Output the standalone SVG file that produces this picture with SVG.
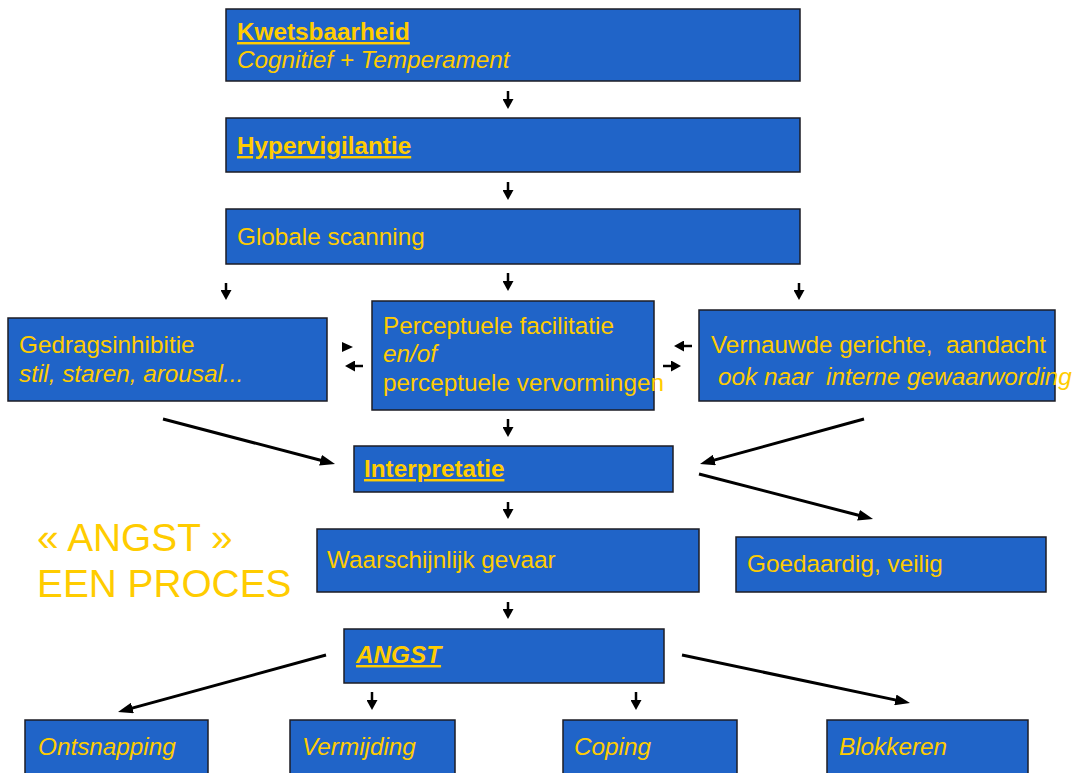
<svg xmlns="http://www.w3.org/2000/svg" width="1074" height="773" viewBox="0 0 1074 773">
<style>
.box{fill:#2064C8;stroke:#1c1c24;stroke-width:1.5}
.t{fill:#FFCC00;font-family:"Liberation Sans",Arial,sans-serif;font-size:24.3px;white-space:pre}
.b{font-weight:bold;text-decoration:underline}
.i{font-style:italic}
.big{fill:#FFCC00;font-family:"Liberation Sans",Arial,sans-serif;font-size:38.8px}
.s{stroke:#000;stroke-width:2.5;fill:none}
.l{stroke:#000;stroke-width:3;fill:none}
</style>
<defs>
<marker id="ah" markerUnits="userSpaceOnUse" markerWidth="15" markerHeight="11" refX="7" refY="5.5" orient="auto">
<path d="M0,0 L15,5.5 L0,11 z" fill="#000"/>
</marker>
<marker id="sh" markerUnits="userSpaceOnUse" markerWidth="10" markerHeight="11" refX="5" refY="5.5" orient="auto">
<path d="M0,0 L10,5.5 L0,11 z" fill="#000"/>
</marker>
</defs>
<rect width="1074" height="773" fill="#fff"/>

<g id="connectors">
<line class="s" x1="508" y1="91" x2="508" y2="104" marker-end="url(#sh)"/>
<line class="s" x1="508" y1="182" x2="508" y2="195" marker-end="url(#sh)"/>
<line class="s" x1="508" y1="273" x2="508" y2="286" marker-end="url(#sh)"/>
<line class="s" x1="226" y1="283" x2="226" y2="295" marker-end="url(#sh)"/>
<line class="s" x1="799" y1="283" x2="799" y2="295" marker-end="url(#sh)"/>
<line class="s" x1="508" y1="419" x2="508" y2="432" marker-end="url(#sh)"/>
<line class="s" x1="508" y1="502" x2="508" y2="514" marker-end="url(#sh)"/>
<line class="s" x1="508" y1="602" x2="508" y2="614" marker-end="url(#sh)"/>
<line class="s" x1="372" y1="692" x2="372" y2="705" marker-end="url(#sh)"/>
<line class="s" x1="636" y1="692" x2="636" y2="705" marker-end="url(#sh)"/>
<polygon points="342,342 353,347 342,352" fill="#000"/>
<line class="s" x1="363" y1="366" x2="350" y2="366" marker-end="url(#sh)"/>
<line class="s" x1="692" y1="346" x2="679" y2="346" marker-end="url(#sh)"/>
<line class="s" x1="663" y1="366" x2="676" y2="366" marker-end="url(#sh)"/>
<line class="l" x1="163" y1="419" x2="327.3" y2="462" marker-end="url(#ah)"/>
<line class="l" x1="864" y1="419" x2="707.7" y2="461.9" marker-end="url(#ah)"/>
<line class="l" x1="699" y1="474" x2="865.3" y2="517" marker-end="url(#ah)"/>
<line class="l" x1="326" y1="655" x2="125.7" y2="709.9" marker-end="url(#ah)"/>
<line class="l" x1="682" y1="655" x2="902.2" y2="701.4" marker-end="url(#ah)"/>
</g>

<g id="kwetsbaarheid">
<rect class="box" x="226" y="9" width="574" height="72"/>
<text class="t b" x="237" y="40">Kwetsbaarheid</text>
<text class="t i" x="237" y="68">Cognitief + Temperament</text>
</g>
<g id="hypervigilantie">
<rect class="box" x="226" y="118" width="574" height="54"/>
<text class="t b" x="237" y="154">Hypervigilantie</text>
</g>
<g id="globale">
<rect class="box" x="226" y="209" width="574" height="55"/>
<text class="t" x="237" y="245">Globale scanning</text>
</g>
<g id="gedragsinhibitie">
<rect class="box" x="8" y="318" width="319" height="83"/>
<text class="t" x="19" y="353">Gedragsinhibitie</text>
<text class="t i" x="19" y="382">stil, staren, arousal...</text>
</g>
<g id="perceptuele">
<rect class="box" x="372" y="301" width="282" height="109"/>
<text class="t" x="383" y="334">Perceptuele facilitatie</text>
<text class="t i" x="383" y="362">en/of</text>
<text class="t" x="383" y="391">perceptuele vervormingen</text>
</g>
<g id="vernauwde">
<rect class="box" x="699" y="310" width="356" height="91"/>
<text class="t" x="711" y="353">Vernauwde gerichte,  aandacht</text>
<text class="t i" x="718" y="385">ook naar  interne gewaarwording</text>
</g>
<g id="interpretatie">
<rect class="box" x="354" y="446" width="319" height="46"/>
<text class="t b" x="364" y="477">Interpretatie</text>
</g>
<g id="waarschijnlijk">
<rect class="box" x="317" y="529" width="382" height="63"/>
<text class="t" x="327" y="568">Waarschijnlijk gevaar</text>
</g>
<g id="goedaardig">
<rect class="box" x="736" y="537" width="310" height="55"/>
<text class="t" x="747" y="572">Goedaardig, veilig</text>
</g>
<g id="angst">
<rect class="box" x="344" y="629" width="320" height="54"/>
<text class="t b i" x="356" y="663">ANGST</text>
</g>
<g id="ontsnapping">
<rect class="box" x="25" y="720" width="183" height="60"/>
<text class="t i" x="38" y="755">Ontsnapping</text>
</g>
<g id="vermijding">
<rect class="box" x="290" y="720" width="165" height="60"/>
<text class="t i" x="302" y="755">Vermijding</text>
</g>
<g id="coping">
<rect class="box" x="563" y="720" width="174" height="60"/>
<text class="t i" x="574" y="755">Coping</text>
</g>
<g id="blokkeren">
<rect class="box" x="827" y="720" width="201" height="60"/>
<text class="t i" x="839" y="755">Blokkeren</text>
</g>
<g id="title">
<text class="big" x="37" y="551">« ANGST »</text>
<text class="big" x="37" y="597">EEN PROCES</text>
</g>
</svg>
